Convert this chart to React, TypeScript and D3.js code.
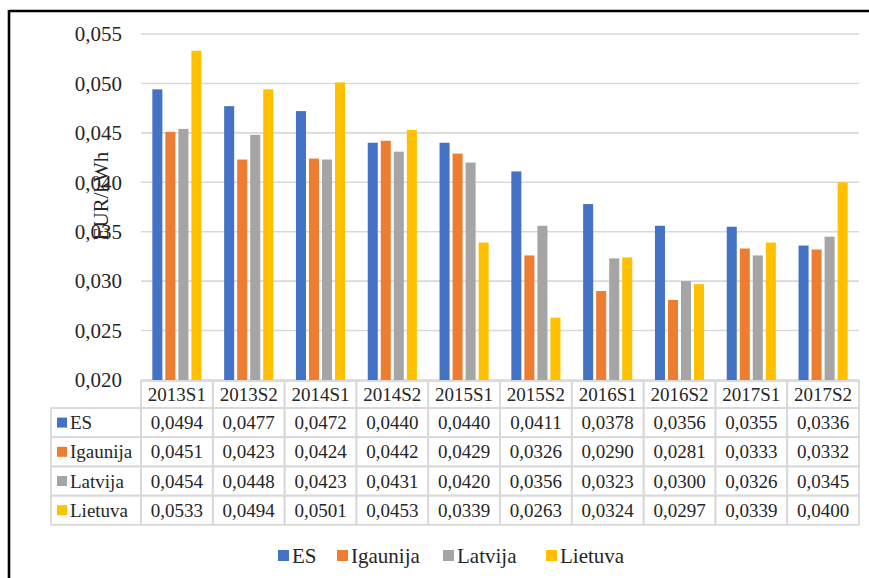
import React from "react";
import * as d3 from "d3";

const categories = ["2013S1", "2013S2", "2014S1", "2014S2", "2015S1", "2015S2", "2016S1", "2016S2", "2017S1", "2017S2"];
const seriesNames = ["ES", "Igaunija", "Latvija", "Lietuva"];
const esValues = [0.0494, 0.0477, 0.0472, 0.044, 0.044, 0.0411, 0.0378, 0.0356, 0.0355, 0.0336];
const igaunijaValues = [0.0451, 0.0423, 0.0424, 0.0442, 0.0429, 0.0326, 0.029, 0.0281, 0.0333, 0.0332];
const latvijaValues = [0.0454, 0.0448, 0.0423, 0.0431, 0.042, 0.0356, 0.0323, 0.03, 0.0326, 0.0345];
const lietuvaValues = [0.0533, 0.0494, 0.0501, 0.0453, 0.0339, 0.0263, 0.0324, 0.0297, 0.0339, 0.04];
const yTicks = [0.02, 0.025, 0.03, 0.035, 0.04, 0.045, 0.05, 0.055];
const colors = ["#4472C4", "#ED7D31", "#A5A5A5", "#FFC000"];
const allValues = [esValues, igaunijaValues, latvijaValues, lietuvaValues];

const W = 869;
const H = 578;
const FONT = '"Liberation Serif", monospace';
const TXT = "#262626";
const GRID = "#d9d9d9";
const ts = { fontFamily: FONT };

export default function App() {
  const plotLeft = 141;
  const plotRight = 859;
  const y = d3.scaleLinear().domain([0.02, 0.055]).range([380, 34]);
  const x0 = d3.scaleBand<string>().domain(categories).range([plotLeft, plotRight]).padding(0);
  const bw = x0.bandwidth();
  const x1 = d3
    .scaleBand<string>()
    .domain(seriesNames)
    .range([bw * 0.158, bw * 0.842])
    .paddingInner(0.23)
    .paddingOuter(0);

  const tableTop = 381;
  const headerH = 27;
  const rowH = 29.2;
  const labelLeft = 51;
  const fmtTick = (v: number) => d3.format(".3f")(v).replace(".", ",");
  const fmtVal = (v: number) => d3.format(".4f")(v).replace(".", ",");

  const legendItems = [
    { name: "ES", x: 278 },
    { name: "Igaunija", x: 337 },
    { name: "Latvija", x: 443 },
    { name: "Lietuva", x: 546 },
  ];

  return (
    <svg
      width={W}
      height={H}
      style={{ position: "absolute", left: 0, top: 0, background: "#fff", fontFamily: FONT }}
    >
      <rect x={0} y={0} width={W} height={H} fill="#fff" />
      <line x1={9} y1={11} x2={W} y2={11} stroke="#000" strokeWidth={2.6} />
      <line x1={9} y1={10} x2={9} y2={H} stroke="#000" strokeWidth={2.6} />

      {yTicks.map((t) => (
        <line key={t} x1={plotLeft} x2={plotRight} y1={y(t)} y2={y(t)} stroke={GRID} strokeWidth={1.6} />
      ))}
      {yTicks.map((t) => (
        <text key={"l" + t} x={122} y={y(t)} dy="0.35em" textAnchor="end" fontSize={21} fill={TXT} style={ts}>
          {fmtTick(t)}
        </text>
      ))}

      {categories.map((c, ci) => (
        <g key={c} transform={`translate(${x0(c)},0)`}>
          {seriesNames.map((s, si) => {
            const v = allValues[si][ci];
            return (
              <rect
                key={s}
                x={x1(s)}
                y={y(v)}
                width={x1.bandwidth()}
                height={y(0.02) - y(v)}
                fill={colors[si]}
              />
            );
          })}
        </g>
      ))}

      <text
        transform={`translate(101,196) rotate(-90)`}
        textAnchor="middle"
        dy="0.35em"
        fontSize={21}
        fill={TXT}
        style={ts}
      >
        EUR/kWh
      </text>

      <g>
        {categories.map((c) => (
          <g key={"h" + c}>
            <rect x={x0(c)} y={tableTop} width={bw} height={headerH} fill="none" stroke={GRID} strokeWidth={1.8} />
            <text
              x={(x0(c) as number) + bw / 2}
              y={tableTop + headerH / 2}
              dy="0.35em"
              textAnchor="middle"
              fontSize={19}
              fill={TXT}
              style={ts}
            >
              {c}
            </text>
          </g>
        ))}
        {seriesNames.map((s, si) => {
          const ry = tableTop + headerH + si * rowH;
          return (
            <g key={"r" + s}>
              <rect x={labelLeft} y={ry} width={plotLeft - labelLeft} height={rowH} fill="none" stroke={GRID} strokeWidth={1.8} />
              <rect x={57} y={ry + rowH / 2 - 5} width={10} height={10} fill={colors[si]} />
              <text x={70} y={ry + rowH / 2} dy="0.35em" fontSize={19} fill={TXT} style={ts}>
                {s}
              </text>
              {categories.map((c, ci) => (
                <g key={c}>
                  <rect x={x0(c)} y={ry} width={bw} height={rowH} fill="none" stroke={GRID} strokeWidth={1.8} />
                  <text
                    x={(x0(c) as number) + bw / 2}
                    y={ry + rowH / 2}
                    dy="0.35em"
                    textAnchor="middle"
                    fontSize={19}
                    fill={TXT}
                    style={ts}
                  >
                    {fmtVal(allValues[si][ci])}
                  </text>
                </g>
              ))}
            </g>
          );
        })}
      </g>

      {legendItems.map((it, i) => (
        <g key={it.name}>
          <rect x={it.x} y={550} width={11} height={11} fill={colors[i]} />
          <text x={it.x + 14} y={555.5} dy="0.35em" fontSize={21} fill={TXT} style={ts}>
            {it.name}
          </text>
        </g>
      ))}
    </svg>
  );
}
